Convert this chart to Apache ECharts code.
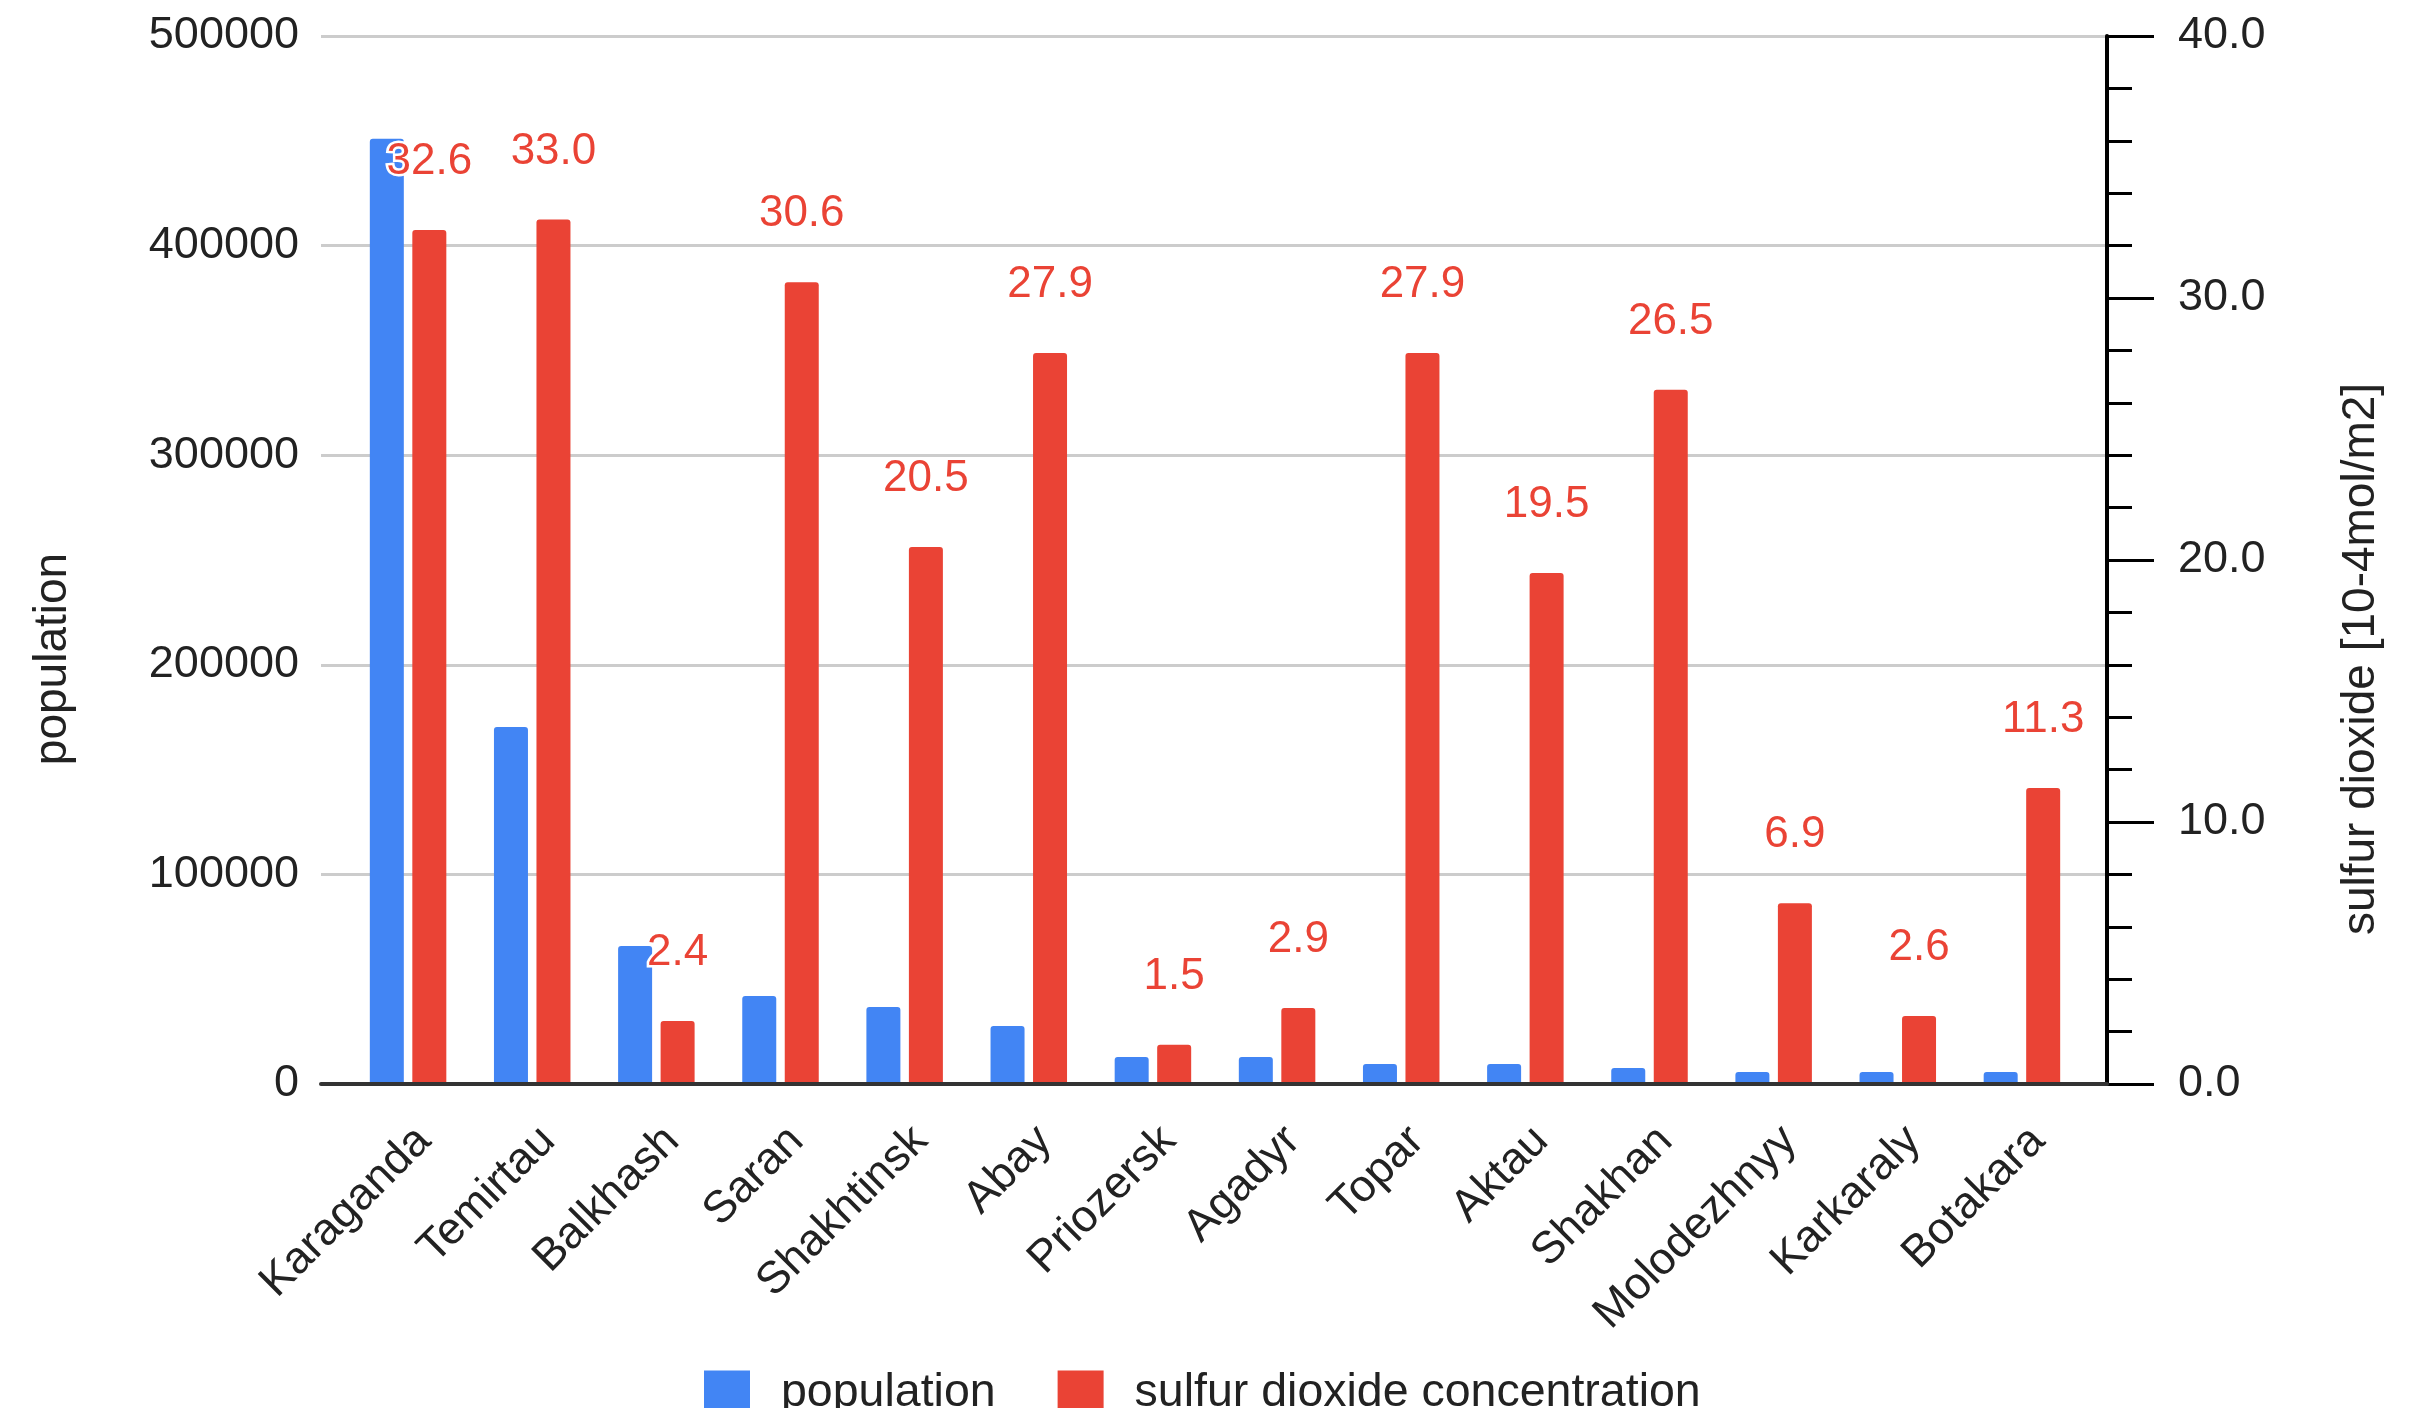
<!DOCTYPE html>
<html>
<head>
<meta charset="utf-8">
<script src="https://cdn.jsdelivr.net/npm/echarts@6/dist/echarts.min.js"></script>
<style>
  html, body { margin: 0; padding: 0; background: #fff; }
  #chart { width: 2424px; height: 1408px; }
</style>
</head>
<body>
<div id="chart"></div>
<script>
const cities = ["Karaganda", "Temirtau", "Balkhash", "Saran", "Shakhtinsk", "Abay", "Priozersk",
  "Agadyr", "Topar", "Aktau", "Shakhan", "Molodezhnyy", "Karkaraly", "Botakara"];
const population = [451000, 170300, 65800, 42000, 36700, 27700, 12900, 12900, 9500, 9500, 7600, 5700, 5700, 5700];
const sulfurDioxide = [32.6, 33.0, 2.4, 30.6, 20.5, 27.9, 1.5, 2.9, 27.9, 19.5, 26.5, 6.9, 2.6, 11.3];

let myChart = echarts.init(document.getElementById("chart"));
const font = "Arial, 'Liberation Sans', sans-serif";

let option = {
  backgroundColor: "#fff",
  textStyle: { fontFamily: font },
  legend: {
    top: 1365,
    left: 699,
    itemWidth: 46,
    itemHeight: 46,
    itemGap: 62,
    icon: "rect",
    textStyle: {
      fontSize: 46.5,
      color: "#222",
      padding: [0, 0, 0, 26],
    },
    data: ["population", "sulfur dioxide concentration"],
  },
  // grid 0 carries the frame: gridlines, both value axes and the baseline
  // grid 1 is a little narrower and holds the bars
  grid: [
    { left: 321, right: 317, top: 36, bottom: 324 },
    { left: 346, right: 340, top: 36, bottom: 324 },
  ],
  xAxis: [
    {
      gridIndex: 0,
      type: "value",
      min: 0,
      max: 1,
      z: 5,
      axisLine: { show: true, lineStyle: { color: "#333", width: 4 } },
      axisTick: { show: false },
      axisLabel: { show: false },
      splitLine: { show: false },
    },
    {
      gridIndex: 1,
      type: "category",
      data: cities,
      axisLine: { show: false },
      axisTick: { show: false },
      axisLabel: {
        rotate: 45,
        margin: 34,
        verticalAlign: "top",
        fontSize: 45,
        color: "#222",
        interval: 0,
      },
    },
  ],
  yAxis: [
    {
      gridIndex: 0,
      type: "value",
      position: "left",
      min: 0,
      max: 500000,
      interval: 100000,
      name: "population",
      nameLocation: "middle",
      nameRotate: 90,
      nameGap: 245,
      nameTextStyle: { fontSize: 46, color: "#222", padding: [0, 198, 0, 0] },
      axisLine: { show: false },
      axisTick: { show: false },
      axisLabel: {
        fontSize: 45,
        color: "#222",
        margin: 22,
        formatter: function (value) {
          return String(value);
        },
      },
      splitLine: { lineStyle: { color: "#ccc", width: 3 } },
    },
    {
      gridIndex: 0,
      type: "value",
      position: "right",
      min: 0,
      max: 40,
      interval: 10,
      name: "sulfur dioxide [10-4mol/m2]",
      nameLocation: "middle",
      nameRotate: 90,
      nameGap: 231,
      nameTextStyle: { fontSize: 46, color: "#222", padding: [0, 198, 0, 0] },
      axisLine: { show: true, lineStyle: { color: "#000", width: 4 } },
      axisTick: { show: true, length: 47, lineStyle: { color: "#000", width: 3 } },
      minorTick: { show: true, splitNumber: 5, length: 25, lineStyle: { color: "#000", width: 3 } },
      axisLabel: {
        fontSize: 45,
        color: "#222",
        margin: 71,
        formatter: function (value) {
          return value.toFixed(1);
        },
      },
      splitLine: { show: false },
    },
    { gridIndex: 1, type: "value", min: 0, max: 500000, show: false },
    { gridIndex: 1, type: "value", min: 0, max: 40, show: false },
  ],
  series: [
    {
      name: "population",
      type: "bar",
      xAxisIndex: 1,
      yAxisIndex: 2,
      barWidth: 34,
      barGap: "25%",
      itemStyle: { color: "#4285F4", borderRadius: [3, 3, 0, 0] },
      data: population,
    },
    {
      name: "sulfur dioxide concentration",
      type: "bar",
      xAxisIndex: 1,
      yAxisIndex: 3,
      barWidth: 34,
      barGap: "25%",
      itemStyle: { color: "#EA4335", borderRadius: [3, 3, 0, 0] },
      label: {
        show: true,
        position: "top",
        distance: 46,
        fontSize: 44,
        color: "#EA4335",
        textBorderColor: "#fff",
        textBorderWidth: 5,
        formatter: function (p) {
          return p.value.toFixed(1);
        },
      },
      data: sulfurDioxide,
    },
  ],
};

myChart.setOption(option);
</script>
</body>
</html>
